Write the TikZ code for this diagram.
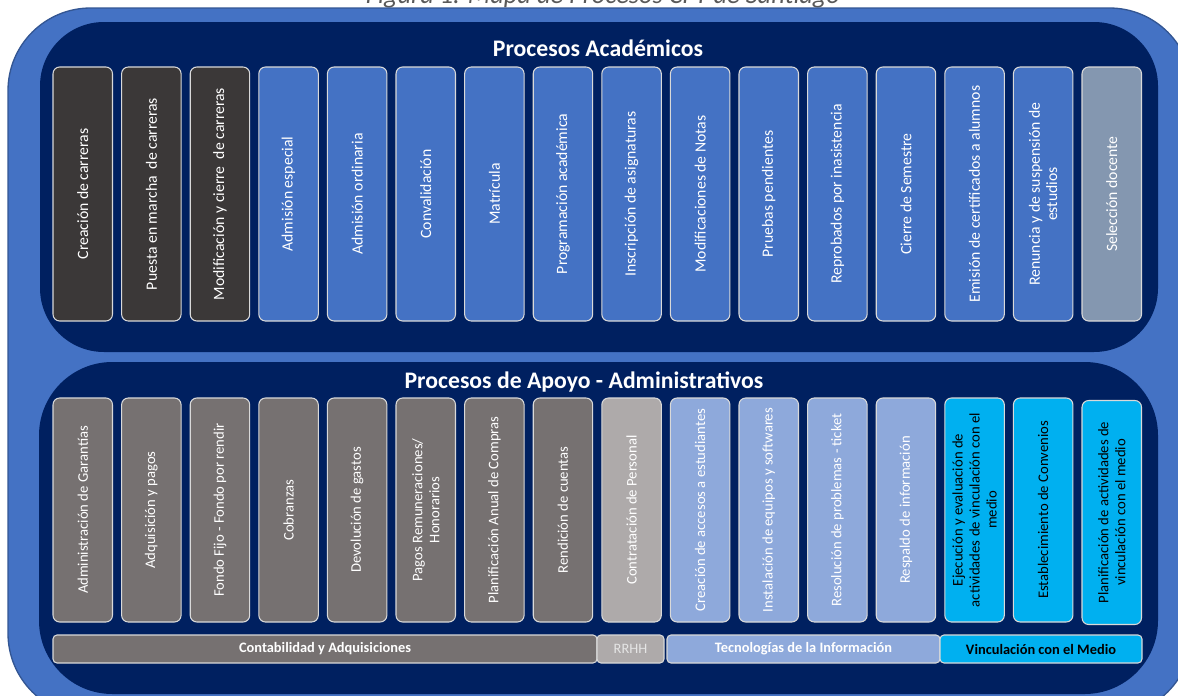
\documentclass[tikz,border=0pt]{standalone}
\usepackage{fontspec}
\setmainfont{Carlito}
\definecolor{outerblue}{HTML}{4472C4}
\definecolor{navy}{HTML}{002060}
\definecolor{darkbox}{HTML}{3B3838}
\definecolor{bluebox}{HTML}{4472C4}
\definecolor{slatebox}{HTML}{8497B0}
\definecolor{graybox}{HTML}{767171}
\definecolor{lgraybox}{HTML}{AEAAAA}
\definecolor{tibox}{HTML}{8EA9DB}
\definecolor{cyanbox}{HTML}{00B0F0}
\definecolor{rim}{HTML}{D9D9D9}
\definecolor{capgray}{HTML}{595959}
\begin{document}
\begin{tikzpicture}[x=0.75pt,y=-0.75pt,
  pbox/.style={draw=rim, line width=0.8pt, rounded corners=5pt, rotate=90,
    minimum height=44.6pt, align=center, inner sep=2pt, text=white},
  topbox/.style={pbox, minimum width=190.5pt, font=\fontsize{11.8}{13}\selectfont},
  lowbox/.style={pbox, minimum width=168pt, font=\fontsize{11}{12.75}\selectfont},
  bar/.style={draw=rim, line width=0.8pt, rounded corners=3pt, minimum height=21pt,
    inner sep=0pt, font=\bfseries\fontsize{10.8}{12}\selectfont, text=white},
  title/.style={font=\bfseries\fontsize{17.8}{20}\selectfont, text=white}]
\useasboundingbox (0,0) rectangle (1178,696);
\begin{scope}
\clip (0,0) rectangle (1178,696);
% caption (cut by the page edge, as in the reference)
\node[font=\itshape\fontsize{19.8}{22}\selectfont, text=capgray, anchor=base] (cap) at (603,3) {Figura 1. Mapa de Procesos CFT de Santiago};
% outer shape
\draw[fill=outerblue, draw=outerblue!75!black, line width=1pt, rounded corners=62pt] (8,8) rectangle (1192,716);
% panels
\fill[navy, rounded corners=48pt] (40,22) rectangle (1158,352);
\fill[navy, rounded corners=55pt] (39,362) rectangle (1158,694);
\end{scope}
% titles
\node[title] (t1) at (598,48) {Procesos Académicos};
\node[title] (t2) at (584,382) {Procesos de Apoyo - Administrativos};
% top row
\node[topbox, fill=darkbox] (a1) at (82.75,194) {Creación de carreras};
\node[topbox, fill=darkbox] (a2) at (151.35,194) {Puesta en marcha~ de carreras};
\node[topbox, fill=darkbox] (a3) at (219.95,194) {Modificación y cierre~ de carreras};
\node[topbox, fill=bluebox] (a4) at (288.55,194) {Admisión especial};
\node[topbox, fill=bluebox] (a5) at (357.15,194) {Admisión ordinaria};
\node[topbox, fill=bluebox] (a6) at (425.75,194) {Convalidación};
\node[topbox, fill=bluebox] (a7) at (494.35,194) {Matrícula};
\node[topbox, fill=bluebox] (a8) at (562.95,194) {Programación académica};
\node[topbox, fill=bluebox] (a9) at (631.55,194) {Inscripción de asignaturas};
\node[topbox, fill=bluebox] (a10) at (700.15,194) {Modificaciones de Notas};
\node[topbox, fill=bluebox] (a11) at (768.75,194) {Pruebas pendientes};
\node[topbox, fill=bluebox] (a12) at (837.35,194) {Reprobados por inasistencia};
\node[topbox, fill=bluebox] (a13) at (905.95,194) {Cierre de Semestre};
\node[topbox, fill=bluebox] (a14) at (974.55,194) {Emisión de certificados a alumnos};
\node[topbox, fill=bluebox] (a15) at (1043.15,194) {Renuncia y de suspensión de\\estudios};
\node[topbox, fill=slatebox] (a16) at (1111.75,194) {Selección docente};
% lower row
\node[lowbox, fill=graybox] (b1) at (82.75,510) {Administración de Garantías};
\node[lowbox, fill=graybox] (b2) at (151.35,510) {Adquisición y pagos};
\node[lowbox, fill=graybox] (b3) at (219.95,510) {Fondo Fijo - Fondo por rendir};
\node[lowbox, fill=graybox] (b4) at (288.55,510) {Cobranzas};
\node[lowbox, fill=graybox] (b5) at (357.15,510) {Devolución de gastos};
\node[lowbox, fill=graybox] (b6) at (425.75,510) {Pagos Remuneraciones/\\Honorarios};
\node[lowbox, fill=graybox] (b7) at (494.35,510) {Planificación Anual de Compras};
\node[lowbox, fill=graybox] (b8) at (562.95,510) {Rendición de cuentas};
\node[lowbox, fill=lgraybox] (b9) at (631.55,510) {Contratación de Personal};
\node[lowbox, fill=tibox] (b10) at (700.15,510) {Creación de accesos a estudiantes};
\node[lowbox, fill=tibox] (b11) at (768.75,510) {Instalación de equipos y softwares};
\node[lowbox, fill=tibox] (b12) at (837.35,510) {Resolución de problemas - ticket};
\node[lowbox, fill=tibox] (b13) at (905.95,510) {Respaldo de información};
\node[lowbox, fill=cyanbox, text=black] (b14) at (974.55,510) {Ejecución y evaluación de\\actividades de vinculación con el\\medio};
\node[lowbox, fill=cyanbox, text=black] (b15) at (1043.15,510) {Establecimiento de Convenios};
\node[lowbox, fill=cyanbox, text=black] (b16) at (1111.75,512.5) {Planificación de actividades de\\vinculación con el medio};
% bars
\node[bar, fill=graybox, minimum width=408pt] (c1) at (325,649) {Contabilidad y Adquisiciones};
\node[bar, fill=lgraybox, minimum width=50.25pt, text=white!90!black, font=\fontsize{10.8}{12}\selectfont] (c2) at (630.5,649) {RRHH};
\node[bar, fill=tibox, minimum width=204.75pt] (c3) at (803.5,649) {Tecnologías de la Información};
\node[bar, fill=cyanbox, minimum width=151.5pt, text=black] (c4) at (1041,649) {Vinculación con el Medio};
\end{tikzpicture}
\end{document}
